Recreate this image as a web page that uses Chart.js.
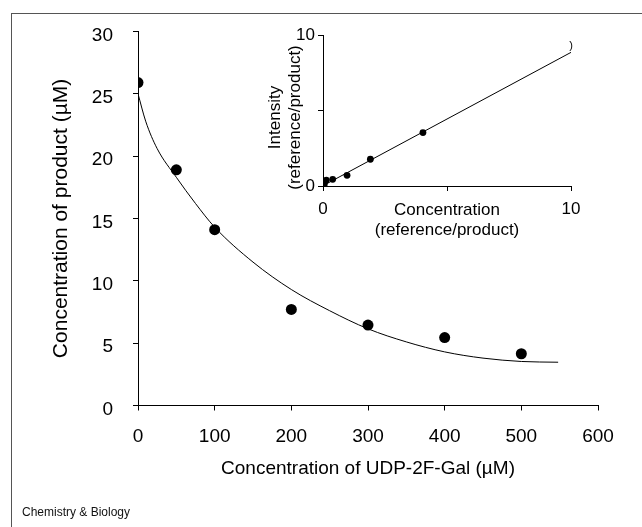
<!DOCTYPE html>
<html>
<head>
<meta charset="utf-8">
<script src="https://cdn.jsdelivr.net/npm/chart.js@4.4.1/dist/chart.umd.min.js"></script>
<style>
  html, body { margin: 0; padding: 0; background: #fff; }
  body { width: 642px; height: 527px; position: relative; overflow: hidden; font-family: "Liberation Sans", Arial, sans-serif; }
  #frame { position: absolute; left: 11px; top: 13px; width: 700px; height: 600px; border-left: 1px solid #555; border-top: 1px solid #555; }
  #main { position: absolute; left: 0; top: 0; }
  #inset { position: absolute; left: 240px; top: 0; }
  #credit { position: absolute; left: 22px; top: 505px; font-size: 12px; color: #111; font-family: "Liberation Sans", Arial, sans-serif; }
</style>
</head>
<body>
<div id="frame"></div>
<canvas id="main" width="642" height="527"></canvas>
<canvas id="inset" width="402" height="260"></canvas>
<div id="credit">Chemistry &amp; Biology</div>
<script>
// ---- Main plot data ----
const mainX = [0, 50, 100, 200, 300, 400, 500];               // UDP-2F-Gal (µM)
const mainY = [25.9, 18.9, 14.1, 7.7, 6.45, 5.45, 4.15];      // product (µM)
const fitX  = [0, 10, 25, 50, 75, 100, 150, 200, 250, 300, 350, 400, 450, 500, 548];
const fitY  = [25.0, 22.8, 20.6, 18.3, 16.2, 14.3, 11.5, 9.3, 7.6, 6.15, 5.1, 4.3, 3.8, 3.53, 3.47];
const mainXTicks = [0, 100, 200, 300, 400, 500, 600];
const mainYTicks = [0, 5, 10, 15, 20, 25, 30];

// ---- Inset data ----
const insetX = [0.05, 0.13, 0.39, 0.97, 1.91, 4.03];
const insetY = [0.11, 0.38, 0.44, 0.71, 1.77, 3.54];
const insetLineX = [0, 10];
const insetLineY = [0.02, 8.85];
const insetTickLabels = [0, 10];
const insetYTitle = ['Intensity', '(reference/product)'];
const insetXTitle = ['Concentration', '(reference/product)'];

const FONT = '"Liberation Sans", Arial, Helvetica, sans-serif';
const zip = (xs, ys) => xs.map((x, i) => ({x: x, y: ys[i]}));

function axisBase(min, max, step, fontSize, pad, tl) {
  return {
    type: 'linear', min: min, max: max,
    ticks: { stepSize: step, color: '#000', font: {family: FONT, size: fontSize}, padding: pad,
             maxRotation: 0, autoSkip: false },
    grid: { drawOnChartArea: false, drawTicks: true, tickLength: tl, color: '#000', tickColor: '#000', lineWidth: 1 },
    border: { display: true, color: '#000', width: 1 }
  };
}

// ---- Main chart ----
const mx = axisBase(0, 600, 100, 19, 15, 5);
mx.ticks.callback = v => mainXTicks.includes(v) ? String(v) : '';
mx.title = { display: true, text: 'Concentration of UDP-2F-Gal (\u00b5M)', color: '#000', font: {family: FONT, size: 19}, padding: 0 };
mx.afterFit = s => { s.height = 75; };

const my = axisBase(0, 30, 5, 19, 20, 5);
my.ticks.callback = v => mainYTicks.includes(v) ? String(v) : '';
my.ticks.labelOffset = 4;
my.title = { display: true, text: 'Concentration of product (\u00b5M)', color: '#000', font: {family: FONT, size: 21}, padding: {top: 49, bottom: 0} };
my.afterFit = s => { s.width = 138; };

new Chart(document.getElementById('main'), {
  type: 'scatter',
  data: {
    datasets: [
      { data: zip(fitX, fitY), showLine: true, borderColor: '#000', borderWidth: 1, pointRadius: 0,
        cubicInterpolationMode: 'monotone', fill: false },
      { data: zip(mainX, mainY), showLine: false, pointRadius: 5.5, backgroundColor: '#000', borderWidth: 0 }
    ]
  },
  options: {
    responsive: false, animation: false, devicePixelRatio: 1,
    layout: { padding: { left: 0, top: 26, right: 44, bottom: 46.5 } },
    plugins: { legend: { display: false }, tooltip: { enabled: false } },
    scales: { x: mx, y: my }
  }
});

// ---- Inset chart ----
const ix = axisBase(0, 10, 5, 17, 8, 5);
ix.ticks.callback = v => insetTickLabels.includes(v) ? String(v) : '';
ix.title = { display: true, text: insetXTitle, color: '#000', font: {family: FONT, size: 17}, padding: 0 };
ix.afterFit = s => { s.height = 55; };

const iy = axisBase(0, 10, 5, 17, 3, 5);
iy.ticks.callback = v => insetTickLabels.includes(v) ? String(v) : '';
iy.afterFit = s => { s.width = 83; };

// inset y-axis title (two rotated lines, sitting a little below the axis centre as in the original)
const yTitle = {
  id: 'yTitle',
  afterDraw(chart) {
    const c = chart.ctx, a = chart.chartArea;
    c.save();
    c.fillStyle = '#000';
    c.font = '17px ' + FONT;
    c.textAlign = 'center';
    c.textBaseline = 'middle';
    const cy = (a.top + a.bottom) / 2 + 7;
    const cols = [a.left - 48, a.left - 28];
    insetYTitle.forEach((t, i) => {
      c.save();
      c.translate(cols[i], cy);
      c.rotate(-Math.PI / 2);
      c.fillText(t, 0, 0);
      c.restore();
    });
    c.restore();
  }
};

const glyph = {
  id: 'glyph',
  afterDatasetsDraw(chart) {
    const c = chart.ctx, xs = chart.scales.x, ys = chart.scales.y;
    c.save();
    c.fillStyle = '#000';
    c.font = '11px ' + FONT;
    c.textAlign = 'center';
    c.textBaseline = 'middle';
    c.fillText(')', xs.getPixelForValue(10), ys.getPixelForValue(9.25));
    c.restore();
  }
};

new Chart(document.getElementById('inset'), {
  type: 'scatter',
  data: {
    datasets: [
      { data: zip(insetLineX, insetLineY), showLine: true, borderColor: '#000', borderWidth: 1, pointRadius: 0, fill: false },
      { data: zip(insetX, insetY), showLine: false, pointRadius: 3.4, backgroundColor: '#000', borderWidth: 0 }
    ]
  },
  options: {
    responsive: false, animation: false, devicePixelRatio: 1,
    layout: { padding: { left: 0, top: 35, right: 71, bottom: 19 } },
    plugins: { legend: { display: false }, tooltip: { enabled: false } },
    scales: { x: ix, y: iy }
  },
  plugins: [glyph, yTitle]
});
</script>
</body>
</html>
